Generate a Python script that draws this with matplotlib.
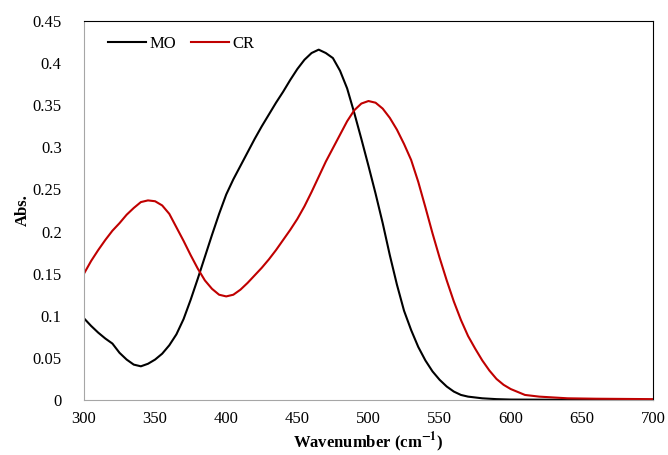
import matplotlib.pyplot as plt

plt.rcParams['font.family'] = ['Liberation Serif', 'DejaVu Serif']
plt.rcParams['mathtext.fontset'] = 'stix'

# 吸光スペクトル (読み取り値)
mo_x = [300, 305, 310, 315, 320, 325, 330, 335, 340, 345, 350, 355, 360, 365,
        370, 375, 380, 385, 390, 395, 400, 405, 410, 415, 420, 425, 430, 435,
        440, 445, 450, 455, 460, 465, 470, 475, 480, 485, 490, 495, 500, 505,
        510, 515, 520, 525, 530, 535, 540, 545, 550, 555, 560, 565, 570, 580,
        590, 600, 650, 700]
mo_y = [0.097, 0.088, 0.080, 0.073, 0.067, 0.056, 0.048, 0.042, 0.040, 0.043,
        0.048, 0.055, 0.065, 0.078, 0.096, 0.119, 0.144, 0.170, 0.196, 0.221,
        0.244, 0.262, 0.278, 0.294, 0.310, 0.325, 0.339, 0.353, 0.366, 0.380,
        0.393, 0.404, 0.412, 0.416, 0.412, 0.406, 0.391, 0.370, 0.341, 0.310,
        0.278, 0.245, 0.210, 0.172, 0.137, 0.106, 0.083, 0.063, 0.047, 0.034,
        0.024, 0.016, 0.010, 0.006, 0.004, 0.002, 0.001, 0.0005, 0.0002, 0.0]

cr_x = [300, 305, 310, 315, 320, 325, 330, 335, 340, 345, 350, 355, 360, 365,
        370, 375, 380, 385, 390, 395, 400, 405, 410, 415, 420, 425, 430, 435,
        440, 445, 450, 455, 460, 465, 470, 475, 480, 485, 490, 495, 500, 505,
        510, 515, 520, 525, 530, 535, 540, 545, 550, 555, 560, 565, 570, 575,
        580, 585, 590, 595, 600, 610, 620, 630, 640, 660, 700]
cr_y = [0.150, 0.165, 0.178, 0.190, 0.201, 0.210, 0.220, 0.228, 0.235, 0.237,
        0.236, 0.231, 0.221, 0.205, 0.189, 0.172, 0.156, 0.142, 0.132, 0.125,
        0.123, 0.125, 0.131, 0.139, 0.148, 0.157, 0.167, 0.178, 0.190, 0.202,
        0.215, 0.230, 0.247, 0.265, 0.283, 0.299, 0.315, 0.331, 0.344, 0.352,
        0.355, 0.353, 0.346, 0.335, 0.321, 0.304, 0.285, 0.259, 0.229, 0.198,
        0.169, 0.142, 0.117, 0.095, 0.076, 0.061, 0.047, 0.035, 0.025, 0.018,
        0.013, 0.006, 0.004, 0.003, 0.002, 0.0015, 0.001]

fig = plt.figure(figsize=(6.68, 4.55), dpi=100)
ax = fig.add_axes([0.1257, 0.1209, 0.8518, 0.8329])

ax.plot(mo_x, mo_y, color='black', lw=1.5, label='MO')
ax.plot(cr_x, cr_y, color='#c00000', lw=1.5, label='CR')

ax.set_xlim(300, 700)
ax.set_ylim(0, 0.45)
ax.set_xticks(range(300, 701, 50))
ax.set_yticks([0, 0.05, 0.1, 0.15, 0.2, 0.25, 0.3, 0.35, 0.4, 0.45])
ax.set_yticklabels(['0', '0.05', '0.1', '0.15', '0.2', '0.25', '0.3', '0.35', '0.4', '0.45'])
ax.tick_params(length=0, labelsize=12)
ax.tick_params(axis='y', pad=16)
ax.tick_params(axis='x', pad=8)

for s in ['left', 'bottom']:
    ax.spines[s].set_color('#a6a6a6')
for s in ['top', 'right']:
    ax.spines[s].set_color('black')

ax.set_xlabel(r'Wavenumber (cm$^{\mathbf{-1}}$)', fontsize=12, fontweight='bold', labelpad=2)
ax.set_ylabel('Abs.', fontsize=12, fontweight='bold', labelpad=1)

ax.legend(loc='upper left', ncol=2, frameon=False, fontsize=12,
          handlelength=2.3, handletextpad=0.2, columnspacing=0.9,
          bbox_to_anchor=(0.015, 1.0))

plt.savefig('out.png', dpi=100)
